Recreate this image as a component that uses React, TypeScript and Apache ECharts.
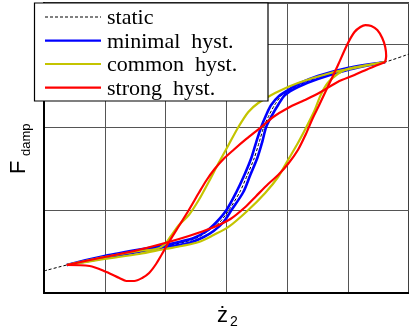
import React, { useEffect, useRef } from "react";
import * as echarts from "echarts";

// Axis extents (no tick labels in the reference; grid spacing = 10 units)
const xMax = 60;
const yMax = 35;
const gridInterval = 10;

// Legend labels
const legendLabels = ["static", "minimal\u00a0 hyst.", "common\u00a0 hyst.", "strong\u00a0 hyst."];
const seriesColors = ["#000000", "#0000ff", "#c4c400", "#ff0000"];

// static characteristic (dashed)
const staticCurve = [
  [0, 2.66], [3.75, 3.38], [9.95, 4.34], [19.89, 5.67], [23.81, 6.28], [25.76, 6.88],
  [27.39, 7.72], [28.94, 8.57], [30.41, 10.02], [32.2, 12.19], [33.43, 14.24], [34.57, 16.29],
  [35.38, 18.22], [36.12, 20.03], [37.01, 21.48], [37.91, 22.69], [39.13, 23.9], [41.74, 25.04],
  [45.0, 26.01], [49.89, 27.03], [56.09, 27.88], [60, 28.84],
];

// minimal hysteresis: rising and returning branch
const minimalRise = [
  [3.75, 3.38], [9.95, 4.22], [19.89, 5.55], [23.81, 6.03], [26.25, 6.76], [27.88, 7.48],
  [29.51, 8.57], [30.82, 10.02], [32.77, 12.19], [33.91, 14.24], [35.06, 16.29], [35.87, 18.22],
  [36.52, 20.03], [37.5, 21.48], [38.48, 22.69], [39.62, 23.9], [41.74, 24.86], [45.0, 25.83],
  [49.89, 26.91], [56.09, 27.88],
];
const minimalFall = [
  [56.09, 27.88], [49.89, 27.16], [45.0, 26.19], [41.74, 25.22], [40.11, 24.5], [38.64, 23.78],
  [37.34, 22.69], [36.52, 21.48], [35.71, 20.03], [34.89, 18.22], [34.08, 16.29], [32.94, 14.24],
  [31.63, 12.19], [30.0, 10.02], [28.37, 8.57], [26.74, 7.48], [24.62, 6.64], [22.18, 6.15],
  [19.89, 5.79], [9.95, 4.47], [3.75, 3.38],
];

// common hysteresis
const commonRise = [
  [3.75, 3.38], [9.95, 4.1], [15.65, 4.71], [19.89, 5.31], [22.66, 5.67], [25.44, 6.15],
  [27.88, 7.0], [30.33, 7.97], [33.59, 10.02], [36.36, 12.07], [38.48, 14.0], [40.11, 16.05],
  [41.74, 18.1], [42.88, 19.67], [44.51, 22.09], [45.49, 23.9], [46.63, 25.34], [48.26, 26.43],
  [49.89, 27.03], [53.15, 27.52], [56.09, 27.88],
];
const commonFall = [
  [56.09, 27.88], [52.67, 27.4], [47.12, 26.55], [41.74, 25.34], [37.99, 24.14], [35.22, 22.93],
  [33.59, 21.84], [31.96, 20.03], [30.33, 17.86], [28.7, 15.69], [27.07, 13.4], [25.44, 11.22],
  [23.81, 9.41], [22.18, 8.21], [20.87, 6.88], [19.73, 5.79], [18.42, 5.31], [15.65, 5.07],
  [9.95, 4.34], [3.75, 3.38],
];

// strong hysteresis
const strongRise = [
  [3.75, 3.38], [9.13, 4.22], [14.84, 5.07], [19.89, 6.03], [23.81, 6.88], [27.56, 7.84],
  [30.65, 8.93], [33.1, 10.38], [34.89, 11.71], [36.85, 13.16], [38.48, 14.24], [40.11, 15.57],
  [41.74, 17.26], [43.05, 19.19], [44.19, 21.12], [45.16, 22.57], [46.63, 24.86], [48.26, 27.4],
  [49.89, 30.05], [51.04, 31.5], [52.01, 32.1], [52.83, 32.34], [53.81, 32.22], [54.79, 31.74],
  [55.6, 30.78], [56.09, 29.69], [56.25, 28.6], [56.09, 27.88],
];
const strongFall = [
  [56.09, 27.88], [53.64, 27.16], [51.04, 26.31], [48.26, 25.47], [45.49, 24.26], [42.88, 23.29],
  [40.11, 22.33], [37.67, 21.24], [35.71, 20.03], [33.26, 18.59], [31.14, 17.26], [29.51, 16.17],
  [28.05, 14.96], [26.74, 13.64], [25.44, 12.07], [23.81, 10.02], [22.18, 8.09], [20.54, 6.15],
  [19.4, 4.71], [18.42, 3.5], [17.28, 2.41], [16.14, 1.81], [14.84, 1.45], [13.53, 1.45],
  [12.39, 1.81], [10.27, 2.53], [7.5, 3.26], [3.75, 3.38],
];

export default function App() {
  const ref = useRef<HTMLDivElement>(null);
  useEffect(() => {
    const chart = echarts.init(ref.current!, null, { renderer: "svg" });

    const mk = (data: number[][], color: string, width: number, dashed?: boolean) => ({
      type: "line",
      data,
      showSymbol: false,
      symbol: "none",
      smooth: dashed ? 0.2 : 0.3,
      silent: true,
      clip: true,
      lineStyle: { color, width, type: dashed ? [3, 2] : "solid" },
    });

    const rowY = [17, 40.7, 64, 87.7];
    const legendGraphics: any[] = [
      {
        type: "rect",
        z: 100,
        shape: { x: 34.5, y: 3, width: 233.5, height: 98 },
        style: { fill: "#fff", stroke: "#000", lineWidth: 1.2 },
      },
    ];
    legendLabels.forEach((lab, i) => {
      legendGraphics.push({
        type: "line",
        z: 101,
        shape: { x1: 45, y1: rowY[i], x2: 101, y2: rowY[i] },
        style: {
          stroke: seriesColors[i],
          lineWidth: i === 0 ? 1 : 2.2,
          lineDash: i === 0 ? [3, 2] : null,
        },
      });
      legendGraphics.push({
        type: "text",
        z: 101,
        x: 107,
        y: rowY[i] - 0.5,
        style: {
          text: lab,
          fontFamily: '"Liberation Serif", "Times New Roman", serif',
          fontSize: 22,
          fill: "#000",
          align: "left",
          verticalAlign: "middle",
        },
      });
    });

    const titleGraphics = [
      {
        type: "text",
        z: 100,
        x: 17.4,
        y: 174,
        rotation: Math.PI / 2,
        style: { text: "F", fontFamily: '"Liberation Sans", Arial, sans-serif', fontSize: 22, fill: "#000", align: "left", verticalAlign: "middle" },
      },
      {
        type: "text",
        z: 100,
        x: 25,
        y: 156,
        rotation: Math.PI / 2,
        style: { text: "damp", fontFamily: '"Liberation Sans", Arial, sans-serif', fontSize: 13, fill: "#000", align: "left", verticalAlign: "middle" },
      },
      {
        type: "text",
        z: 100,
        x: 217,
        y: 314.4,
        style: { text: "ż", fontFamily: '"Liberation Sans", Arial, sans-serif', fontSize: 22, fill: "#000", align: "left", verticalAlign: "middle" },
      },
      {
        type: "text",
        z: 100,
        x: 230,
        y: 321,
        style: { text: "2", fontFamily: '"Liberation Sans", Arial, sans-serif', fontSize: 14, fill: "#000", align: "left", verticalAlign: "middle" },
      },
    ];

    chart.setOption({
      animation: false,
      grid: {
        left: 44,
        top: 3,
        right: -3,
        bottom: 38,
        show: true,
        borderColor: "#000",
        borderWidth: 1.5,
        backgroundColor: "transparent",
      },
      xAxis: {
        type: "value",
        min: 0,
        max: xMax,
        interval: gridInterval,
        axisLine: { show: true, onZero: false, lineStyle: { color: "#000", width: 2 } },
        axisTick: { show: false },
        axisLabel: { show: false },
        splitLine: { show: true, lineStyle: { color: "#555", width: 1 } },
      },
      yAxis: {
        type: "value",
        min: 0,
        max: yMax,
        interval: gridInterval,
        axisLine: { show: true, onZero: false, lineStyle: { color: "#000", width: 2 } },
        axisTick: { show: false },
        axisLabel: { show: false },
        splitLine: { show: true, lineStyle: { color: "#555", width: 1 } },
      },
      series: [
        mk(staticCurve, seriesColors[0], 1, true),
        mk(minimalRise, seriesColors[1], 2.6),
        mk(minimalFall, seriesColors[1], 2.6),
        mk(commonRise, seriesColors[2], 2.2),
        mk(commonFall, seriesColors[2], 2.2),
        mk(strongRise, seriesColors[3], 2.2),
        mk(strongFall, seriesColors[3], 2.2),
      ],
      graphic: [...legendGraphics, ...titleGraphics],
    });
    return () => chart.dispose();
  }, []);
  return <div ref={ref} style={{ position: "fixed", left: 0, top: 0, width: 409, height: 331 }} />;
}
